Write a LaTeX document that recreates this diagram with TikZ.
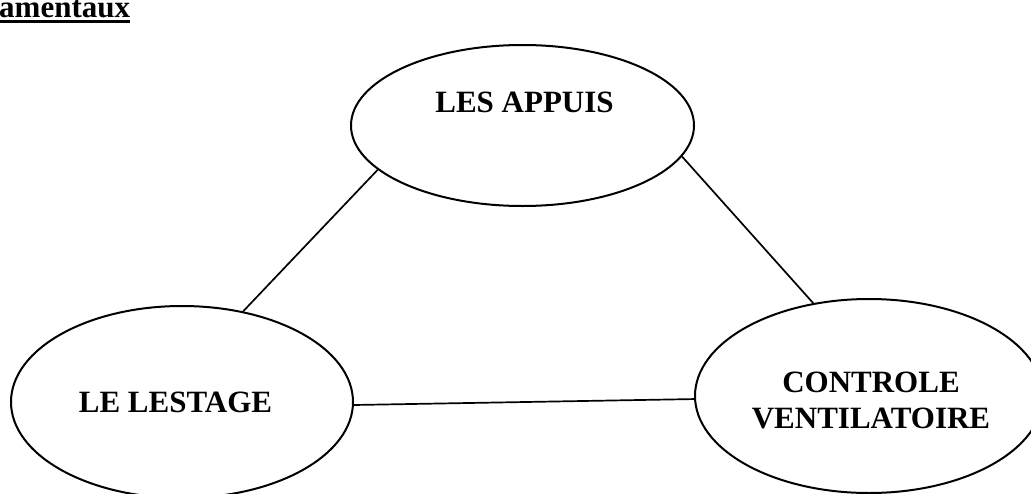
\documentclass[tikz,border=0pt]{standalone}
\usepackage{fontspec}
\setmainfont{Liberation Serif}
\usetikzlibrary{shapes.geometric}
\begin{document}
\begin{tikzpicture}[x=1pt,y=-1pt,
  bubble/.style={ellipse,draw,line width=2pt,inner sep=0pt},
  label/.style={font=\fontsize{31}{36}\selectfont\bfseries,inner sep=0pt,align=center},
  link/.style={line width=1.7pt}]
\useasboundingbox (0,0) rectangle (1031,493);
\clip (0,0) rectangle (1031,493);
\node[bubble,minimum width=343pt,minimum height=161pt] (appuis) at (522.5,125.5) {};
\node[label,anchor=base] (tappuis) at (524.5,112) {LES APPUIS};
\node[bubble,minimum width=342pt,minimum height=192pt] (lestage) at (182,402) {};
\node[label,anchor=base] (tlestage) at (175.5,412) {LE LESTAGE};
\node[bubble,minimum width=348pt,minimum height=194pt] (ventil) at (869,396) {};
\node[label,anchor=base] (tventil) at (871,428) {CONTROLE\\VENTILATOIRE};
\draw[link] (appuis.197.4) -- (lestage.56.3);
\draw[link] (appuis.349.7) -- (ventil.121.9);
\draw[link] (lestage.-1) -- (ventil.181.5);
\node[label,anchor=base west] (title) at (-1,17.5) {amentaux};
\draw[line width=3pt] ([yshift=-4pt]title.base west) -- ([yshift=-4pt]title.base east);
\end{tikzpicture}
\end{document}
